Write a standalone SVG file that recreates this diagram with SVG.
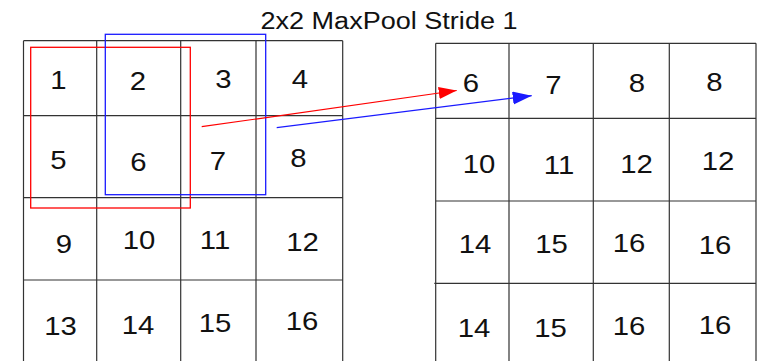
<svg xmlns="http://www.w3.org/2000/svg" width="760" height="361" viewBox="0 0 760 361">
<style>
.grid{stroke:#333;stroke-width:1.2;fill:none}
.n{font-family:"Liberation Sans",Arial,sans-serif;font-size:25.5px;fill:#111;text-anchor:middle}
.t{font-family:"Liberation Sans",Arial,sans-serif;font-size:24.6px;fill:#111;text-anchor:middle}
</style>
<defs>
<marker id="ar" markerUnits="userSpaceOnUse" markerWidth="19" markerHeight="13" refX="18" refY="6" orient="auto"><path d="M0,0 L18,6 L0,12 z" fill="#ff0000"/></marker>
<marker id="ab" markerUnits="userSpaceOnUse" markerWidth="20" markerHeight="14" refX="19" refY="6.5" orient="auto"><path d="M0,0 L19,6.5 L0,13 z" fill="#1a1aff"/></marker>
</defs>
<rect width="760" height="361" fill="#fff"/>
<text class="t" transform="translate(389,29.3) scale(1.1,1)">2x2 MaxPool Stride 1</text>

<g id="input-grid">
<path class="grid" d="M23.5,40.7V361 M96.7,40.7V361 M180.7,40.7V361 M256,40.7V361 M342.7,40.7V361 M23.5,40.7H342.7 M23.5,115.7H342.7 M23.5,197.7H342.7 M23,280H342.7"/>
<text class="n" transform="translate(58.5,89.3) scale(1.15,1)">1</text>
<text class="n" transform="translate(138,90) scale(1.15,1)">2</text>
<text class="n" transform="translate(223.5,88.3) scale(1.15,1)">3</text>
<text class="n" transform="translate(300,87.7) scale(1.15,1)">4</text>
<text class="n" transform="translate(58.5,169.3) scale(1.15,1)">5</text>
<text class="n" transform="translate(138.3,170.7) scale(1.15,1)">6</text>
<text class="n" transform="translate(218,170) scale(1.15,1)">7</text>
<text class="n" transform="translate(298.3,166.7) scale(1.15,1)">8</text>
<text class="n" transform="translate(64,252.7) scale(1.15,1)">9</text>
<text class="n" transform="translate(139,249.3) scale(1.15,1)">10</text>
<text class="n" transform="translate(215,249.3) scale(1.15,1)">11</text>
<text class="n" transform="translate(302.5,250.7) scale(1.15,1)">12</text>
<text class="n" transform="translate(60.6,335) scale(1.15,1)">13</text>
<text class="n" transform="translate(138,334) scale(1.15,1)">14</text>
<text class="n" transform="translate(215,331.7) scale(1.15,1)">15</text>
<text class="n" transform="translate(302,330) scale(1.15,1)">16</text>
</g>

<g id="red-window"><rect x="30.7" y="47.3" width="159.6" height="160.7" fill="none" stroke="#ff0000" stroke-width="1.3"/></g>
<g id="blue-window"><rect x="105.3" y="34.3" width="160.4" height="160.4" fill="none" stroke="#1a1aff" stroke-width="1.3"/></g>

<g id="output-grid">
<path class="grid" d="M435.7,43.3V361 M509,43.3V361 M593.3,43.3V361 M669.3,43.3V361 M756,43.3V361 M435.7,43.3H756 M435.7,118.3H756 M435.7,201H756 M434.3,283.3H756"/>
<text class="n" transform="translate(471,92) scale(1.15,1)">6</text>
<text class="n" transform="translate(553.3,94) scale(1.15,1)">7</text>
<text class="n" transform="translate(637,91.7) scale(1.15,1)">8</text>
<text class="n" transform="translate(714.5,90.7) scale(1.15,1)">8</text>
<text class="n" transform="translate(479,172.7) scale(1.15,1)">10</text>
<text class="n" transform="translate(559,174) scale(1.15,1)">11</text>
<text class="n" transform="translate(636.5,172.7) scale(1.15,1)">12</text>
<text class="n" transform="translate(718,170) scale(1.15,1)">12</text>
<text class="n" transform="translate(475,252.7) scale(1.15,1)">14</text>
<text class="n" transform="translate(551.5,252.7) scale(1.15,1)">15</text>
<text class="n" transform="translate(629,252.3) scale(1.15,1)">16</text>
<text class="n" transform="translate(715,254) scale(1.15,1)">16</text>
<text class="n" transform="translate(474,337.3) scale(1.15,1)">14</text>
<text class="n" transform="translate(550.5,336.7) scale(1.15,1)">15</text>
<text class="n" transform="translate(629,335) scale(1.15,1)">16</text>
<text class="n" transform="translate(715,334) scale(1.15,1)">16</text>
</g>

<g id="connectors">
<line x1="201.7" y1="126.7" x2="456.7" y2="90.5" stroke="#ff0000" stroke-width="1.2" marker-end="url(#ar)"/>
<line x1="276.7" y1="127.7" x2="531.7" y2="95.7" stroke="#1a1aff" stroke-width="1.2" marker-end="url(#ab)"/>
</g>
</svg>
